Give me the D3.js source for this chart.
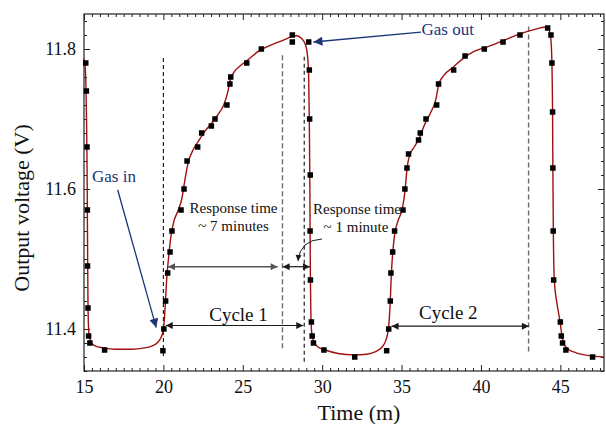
<!DOCTYPE html>
<html><head><meta charset="utf-8">
<script src="https://cdn.jsdelivr.net/npm/d3@7"></script>
<style>
body{margin:0;background:#fff}
svg{display:block}
text{font-family:"Liberation Serif","Times New Roman",serif}
</style>
</head><body>
<svg id="chart" width="606" height="424"></svg>
<script>
// ---- measured data points (time in minutes, output voltage in V) ----
const pointTime = [15.11,15.15,15.19,15.21,15.22,15.25,15.29,15.37,16.30,19.97,
  20.03,20.14,20.27,20.42,20.54,21.11,21.30,21.49,22.16,22.41,23.02,23.25,24.00,24.19,24.24,25.25,26.17,28.12,28.12,
  29.15,29.19,29.21,29.25,29.24,29.26,29.32,29.37,29.45,30.11,32.05,34.06,
  34.19,34.29,34.33,34.44,34.56,35.09,35.21,35.34,35.44,36.07,36.18,36.54,37.21,37.33,38.28,39.00,40.21,41.39,42.46,44.20,
  44.41,44.47,44.51,44.53,44.55,44.58,45.00,45.06,45.14,45.35,47.03];
const pointVoltage = [11.78,11.74,11.66,11.57,11.49,11.43,11.39,11.38,11.37,11.369,
  11.40,11.44,11.48,11.51,11.54,11.57,11.60,11.64,11.66,11.68,11.69,11.70,11.72,11.75,11.76,11.78,11.80,11.82,11.81,
  11.81,11.77,11.70,11.62,11.54,11.47,11.41,11.39,11.38,11.37,11.36,11.369,
  11.40,11.44,11.48,11.51,11.54,11.57,11.60,11.63,11.65,11.67,11.68,11.70,11.72,11.75,11.77,11.79,11.80,11.81,11.82,11.83,
  11.82,11.78,11.71,11.63,11.54,11.47,11.41,11.39,11.38,11.37,11.36];

// ---- smooth fitted curve ----
const fitTime = [15.00,15.07,15.12,15.16,15.19,15.21,15.23,15.25,15.28,15.33,15.45,15.70,16.20,17.00,18.00,18.80,19.30,19.65,19.85,19.97,
  20.05,20.12,20.22,20.34,20.48,20.65,20.90,21.15,21.35,21.55,21.85,22.20,22.60,23.00,23.40,23.80,24.05,24.20,24.45,24.90,25.40,26.00,26.80,27.60,28.10,28.40,28.70,28.95,29.08,
  29.15,29.19,29.22,29.24,29.26,29.29,29.34,29.45,29.70,30.20,31.00,32.00,32.80,33.40,33.80,34.00,34.12,
  34.22,34.29,34.35,34.44,34.58,34.80,35.05,35.22,35.34,35.50,35.80,36.10,36.45,36.85,37.15,37.35,37.65,38.25,38.90,39.60,40.40,41.40,42.50,43.40,44.00,44.25,
  44.40,44.47,44.51,44.53,44.56,44.62,44.80,45.00,45.10,45.25,45.50,46.00,46.80,47.75];
const fitVoltage = [11.786,11.775,11.750,11.700,11.640,11.570,11.500,11.440,11.405,11.390,11.381,11.376,11.373,11.371,11.371,11.373,11.376,11.381,11.388,11.396,
  11.410,11.435,11.475,11.505,11.533,11.553,11.568,11.585,11.612,11.637,11.655,11.668,11.682,11.693,11.705,11.720,11.738,11.755,11.767,11.777,11.786,11.797,11.806,11.813,11.818,11.819,11.815,11.806,11.790,
  11.760,11.700,11.620,11.540,11.470,11.420,11.395,11.383,11.375,11.370,11.365,11.363,11.364,11.368,11.375,11.383,11.393,
  11.412,11.440,11.475,11.508,11.537,11.556,11.572,11.598,11.628,11.648,11.660,11.672,11.692,11.710,11.727,11.750,11.762,11.774,11.787,11.797,11.803,11.812,11.822,11.828,11.831,11.829,
  11.815,11.780,11.710,11.630,11.540,11.470,11.435,11.408,11.390,11.378,11.371,11.366,11.362,11.360];

// ---- axes ----
const xTicks = [15,20,25,30,35,40,45];
const yTicks = [11.4,11.6,11.8];
const yTickLabels = ["11.4","11.6","11.8"];
const xLabel = "Time (m)";
const yLabel = "Output voltage (V)";

// ---- annotation values (data units) ----
const vLineTime  = [20.0, 27.5, 28.87, 43.0];
const vLineTop   = [11.787, 11.791, 11.789, 11.832];
const vLineBot   = [11.357, 11.370, 11.351, 11.366];
const vLineGray  = [false, true, false, true];
const spanLabels = ["", "", "Cycle 1", "Cycle 2"];
const spanStart  = [20.29, 27.51, 20.15, 34.37];
const spanEnd    = [27.20, 29.23, 28.81, 43.02];
const spanLevel  = [11.489, 11.489, 11.405, 11.404];

const mLeft = 84, mRight = 604, mTop = 14, mBottom = 371;
const x = d3.scaleLinear().domain([15, 47.75]).range([mLeft, mRight]);
const y = d3.scaleLinear().domain([11.34, 11.85]).range([mBottom, mTop]);

const svg = d3.select("#chart");
const defs = svg.append("defs");
function marker(id, color, len, wid){
  defs.append("marker").attr("id", id).attr("viewBox","0 0 10 10")
    .attr("refX", 10).attr("refY", 5).attr("markerUnits","userSpaceOnUse")
    .attr("markerWidth", len).attr("markerHeight", wid).attr("orient","auto-start-reverse")
    .append("path").attr("d","M0,0 L10,5 L0,10 z").attr("fill", color);
}
marker("ab", "#1a1a1a", 10, 7);
marker("ag", "#555", 10, 7);
marker("ablue", "#1c3577", 12, 9);
marker("athin", "#1a1a1a", 8, 6);

// minor ticks
const xMinor = d3.range(15, 47.76, 0.5).map(v => +v.toFixed(2)).filter(v => !xTicks.includes(v));
const yMinor = d3.range(11.34, 11.851, 0.02).map(v => +v.toFixed(2)).filter(v => !yTicks.includes(v));

function styleAxis(g){ g.select(".domain").remove(); g.selectAll("line").attr("stroke","#222"); }

svg.append("g").attr("transform",`translate(0,${mBottom})`)
  .call(d3.axisBottom(x).tickValues(xTicks).tickSize(-6).tickPadding(9).tickFormat(d3.format("d")))
  .call(styleAxis)
  .call(g => g.selectAll("text").attr("font-size",18).attr("fill","#111").style("font-family","Liberation Serif"));
svg.append("g").attr("transform",`translate(0,${mBottom})`)
  .call(d3.axisBottom(x).tickValues(xMinor).tickSize(-3).tickFormat(""))
  .call(styleAxis);
svg.append("g").attr("transform",`translate(0,${mTop})`)
  .call(d3.axisTop(x).tickValues(xTicks).tickSize(-6).tickFormat(""))
  .call(styleAxis);
svg.append("g").attr("transform",`translate(0,${mTop})`)
  .call(d3.axisTop(x).tickValues(xMinor).tickSize(-3).tickFormat(""))
  .call(styleAxis);
svg.append("g").attr("transform",`translate(${mLeft},0)`)
  .call(d3.axisLeft(y).tickValues(yTicks).tickSize(-6).tickPadding(8).tickFormat((d,i) => yTickLabels[i]))
  .call(styleAxis)
  .call(g => g.selectAll("text").attr("font-size",18).attr("fill","#111").style("font-family","Liberation Serif"));
svg.append("g").attr("transform",`translate(${mLeft},0)`)
  .call(d3.axisLeft(y).tickValues(yMinor).tickSize(-3).tickFormat(""))
  .call(styleAxis);
svg.append("g").attr("transform",`translate(${mRight},0)`)
  .call(d3.axisRight(y).tickValues(yTicks).tickSize(-6).tickFormat(""))
  .call(styleAxis);
svg.append("g").attr("transform",`translate(${mRight},0)`)
  .call(d3.axisRight(y).tickValues(yMinor).tickSize(-3).tickFormat(""))
  .call(styleAxis);

svg.append("rect").attr("x",mLeft).attr("y",mTop).attr("width",mRight-mLeft).attr("height",mBottom-mTop)
  .attr("fill","none").attr("stroke","#222").attr("stroke-width",1.2);

// axis titles
svg.append("text").attr("x",359).attr("y",420).attr("text-anchor","middle")
  .attr("font-size",22).attr("fill","#111").text(xLabel);
svg.append("text").attr("transform","translate(29,208) rotate(-90)").attr("text-anchor","middle")
  .attr("font-size",22).attr("fill","#111").text(yLabel);

// vertical dashed lines
vLineTime.forEach((t,i) => {
  svg.append("line").attr("x1",x(t)).attr("x2",x(t)).attr("y1",y(vLineTop[i])).attr("y2",y(vLineBot[i]))
    .attr("stroke", vLineGray[i] ? "#6e6e6e" : "#111")
    .attr("stroke-width", vLineGray[i] ? 1.4 : 1.1)
    .attr("stroke-dasharray", vLineGray[i] ? "5,3" : "4,3");
});

// fitted curve
const line = d3.line().x((d,i) => x(fitTime[i])).y((d,i) => y(fitVoltage[i])).curve(d3.curveMonotoneX);
svg.append("path").datum(fitTime).attr("d", line).attr("fill","none")
  .attr("stroke","#a0100f").attr("stroke-width",1.4);

// points
const ms = 5.5;
svg.append("g").selectAll("rect").data(pointTime).join("rect")
  .attr("x",(d) => x(d) - ms/2).attr("y",(d,i) => y(pointVoltage[i]) - ms/2)
  .attr("width",ms).attr("height",ms).attr("fill","#000");

// span arrows
spanStart.forEach((s,i) => {
  const gray = i === 0;
  svg.append("line").attr("x1",x(s)).attr("x2",x(spanEnd[i])).attr("y1",y(spanLevel[i])).attr("y2",y(spanLevel[i]))
    .attr("stroke", gray ? "#555" : "#1a1a1a").attr("stroke-width", gray ? 1.6 : 1.2)
    .attr("marker-start", gray ? "url(#ag)" : "url(#ab)")
    .attr("marker-end", gray ? "url(#ag)" : "url(#ab)");
});
svg.append("text").attr("x",238.5).attr("y",320.5).attr("text-anchor","middle").attr("font-size",19).attr("fill","#111").text(spanLabels[2]);
svg.append("text").attr("x",448.3).attr("y",319).attr("text-anchor","middle").attr("font-size",19).attr("fill","#111").text(spanLabels[3]);

// response time labels
svg.append("text").attr("x",233.5).attr("y",213).attr("text-anchor","middle").attr("font-size",15).attr("fill","#111").text("Response time");
svg.append("text").attr("x",233.5).attr("y",231).attr("text-anchor","middle").attr("font-size",15).attr("fill","#111").text("~ 7 minutes");
svg.append("text").attr("x",357).attr("y",214).attr("text-anchor","middle").attr("font-size",15).attr("fill","#111").text("Response time");
svg.append("text").attr("x",356).attr("y",232).attr("text-anchor","middle").attr("font-size",15).attr("fill","#111").text("~ 1 minute");
svg.append("path").attr("d","M322,239 Q300,240 298,261").attr("fill","none").attr("stroke","#1a1a1a")
  .attr("stroke-width",1).attr("marker-end","url(#athin)");

// gas in / gas out
const navy = "#1c3577";
svg.append("text").attr("x",92).attr("y",182).attr("font-size",17).attr("fill",navy).text("Gas in");
svg.append("line").attr("x1",x(17.12)).attr("y1",y(11.599)).attr("x2",x(19.55)).attr("y2",y(11.402))
  .attr("stroke",navy).attr("stroke-width",1.3).attr("marker-end","url(#ablue)");
svg.append("text").attr("x",421.5).attr("y",35).attr("font-size",17).attr("fill",navy).text("Gas out");
svg.append("line").attr("x1",x(36.22)).attr("y1",y(11.824)).attr("x2",x(29.45)).attr("y2",y(11.81))
  .attr("stroke",navy).attr("stroke-width",1.3).attr("marker-end","url(#ablue)");
</script>
</body></html>
